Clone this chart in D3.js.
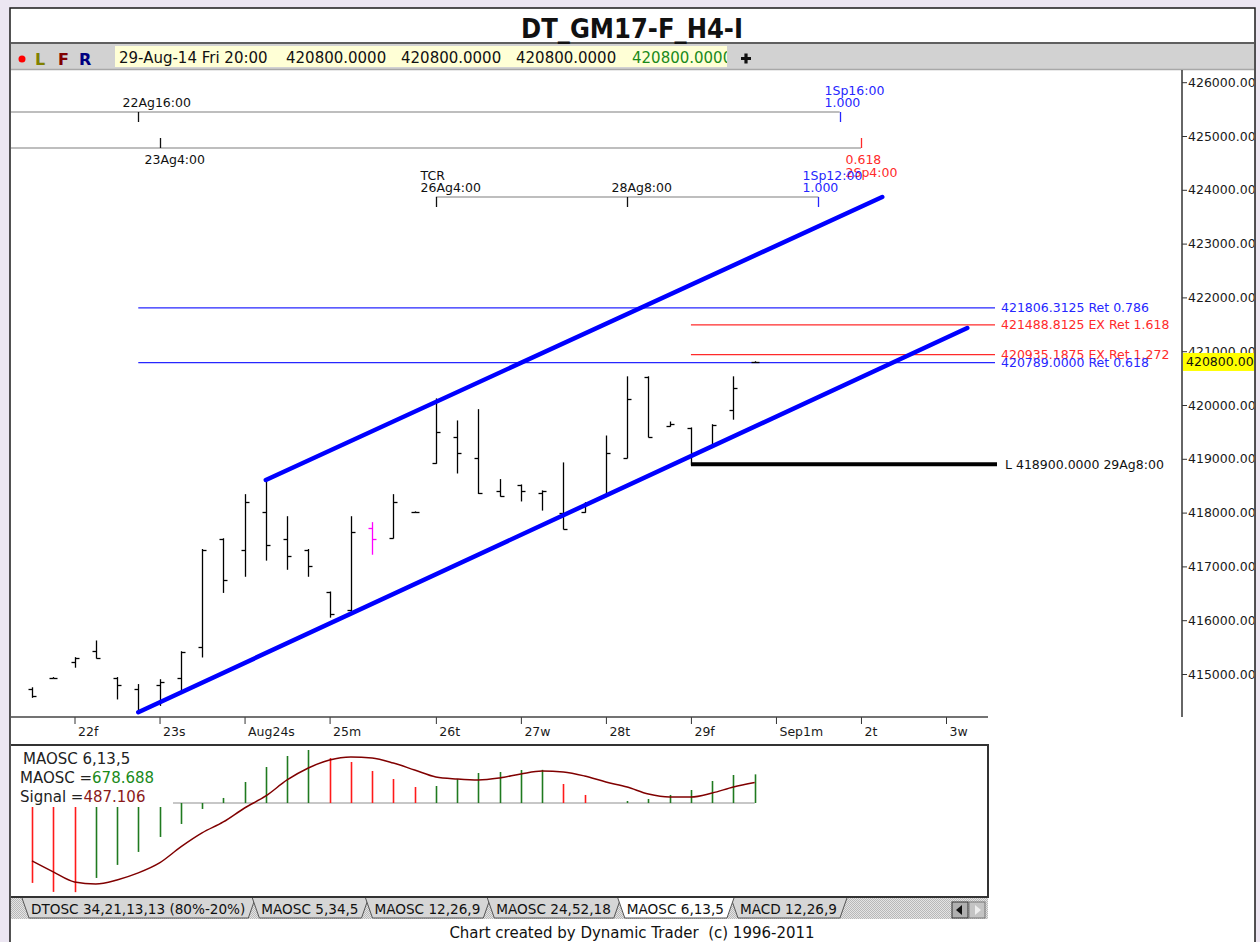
<!DOCTYPE html>
<html>
<head>
<meta charset="utf-8">
<script src="https://cdn.jsdelivr.net/npm/d3@7"></script>
<style>
  body { margin: 0; background: #ece6f2; }
  svg { display: block; }
  text { font-family: "DejaVu Sans", sans-serif; }
</style>
</head>
<body>
<script>
// ---- data ----
// 4-hour bars, index 0 = first bar on screen
var barOpen  = [414720,414930,415220,415430,414930,414720,414800,414930,415500,417510,417310,418010,417510,417310,416520,416190,417710,417530,418010,418920,419410,419020,418400,418510,418360,417990,418010,418310,419020,420520,419610,419570,419220,419910,420800];
var barHigh  = [414740,414930,415300,415610,414930,414800,414890,415410,417310,417510,418330,418610,417920,417310,416520,417920,417810,418330,418010,420110,419700,419910,418610,418510,418400,418920,418180,419420,420520,420520,419680,419570,419630,420520,420800];
var barLow   = [414570,414930,415130,415300,414540,414290,414420,414650,415320,416520,416820,417120,416950,416820,416060,416170,417230,417530,418010,418920,418740,418360,418310,418220,418050,417700,418010,418310,419020,419410,419610,418900,419220,419740,420800];
var barClose = [414590,414930,415300,415300,414800,414330,414850,415410,417310,416750,418200,417400,417190,417010,416120,417640,417510,418200,418010,419500,419110,418360,418310,418400,418400,417700,418180,419110,420110,419410,419650,419110,419630,420320,420800];
var markedBar = 16;

// day ticks on the time axis (bar index) and their labels
var dayIdx    = [2, 6, 10, 14, 19, 23, 27, 31, 35, 39, 43];
var dayLabels = ["22f", "23s", "Aug24s", "25m", "26t", "27w", "28t", "29f", "Sep1m", "2t", "3w"];

// price axis ticks
var priceTicks = d3.range(415000, 426001, 1000);
var lastPrice = 420800;

// trend channel [barIndex, price]
var lowerChannel = [[5, 414290], [44, 421430]];
var upperChannel = [[11, 418606], [40, 423866]];

// retracement / extension levels
var fibPrices = [421806.3125, 421488.8125, 420935.1875, 420789.0];
var fibNames  = ["Ret 0.786", "EX Ret 1.618", "EX Ret 1.272", "Ret 0.618"];
var fibStart  = [5, 31, 31, 5];

// swing low
var lowPrice = 418900, lowIdx = 31, lowText = "L 418900.0000 29Ag8:00";

// time projections: start bar, end bar, texts
var cycleStart     = [5, 6, 19];
var cycleStartText = [["22Ag16:00"], ["23Ag4:00"], ["TCR", "26Ag4:00"]];
var cycleEnd       = [38, 39, 37];
var cycleEndText   = [["1Sp16:00", "1.000"], ["0.618", "2Sp4:00"], ["1Sp12:00", "1.000"]];
var cycleMid = 28, cycleMidText = "28Ag8:00";

// MAOSC 6,13,5 histogram and signal
var maosc  = [-1896,-2109,-2115,-1778,-1469,-1161,-806,-498,-142,119,498,853,1114,1256,1067,972,758,569,379,403,569,711,735,782,786,450,190,0,47,95,190,308,521,664,678.688];
var signal = [-1375,-1635,-1872,-1920,-1825,-1659,-1422,-1043,-711,-450,-119,166,545,830,1019,1090,1067,948,782,616,569,545,593,687,758,735,640,498,379,213,142,142,237,379,487.106];

var tabNames = ["DTOSC 34,21,13,13 (80%-20%)", "MAOSC 5,34,5", "MAOSC 12,26,9", "MAOSC 24,52,18", "MAOSC 6,13,5", "MACD 12,26,9"];
var activeTab = 4;

// ---- colours ----
var BLUE = "#2626ff", RED = "#ff2a2a";

var svg = d3.select("body").append("svg")
  .attr("width", 1260)
  .attr("height", 942);

var defs = svg.append("defs");
defs.append("clipPath").attr("id", "win")
  .append("rect").attr("x", 11).attr("y", 8).attr("width", 1243).attr("height", 934);
defs.append("clipPath").attr("id", "plot")
  .append("rect").attr("x", 11).attr("y", 70).attr("width", 1171).attr("height", 647);
defs.append("clipPath").attr("id", "yellow")
  .append("rect").attr("x", 115).attr("y", 46).attr("width", 612).attr("height", 21);
var pat = defs.append("pattern").attr("id", "dots")
  .attr("width", 2).attr("height", 2).attr("patternUnits", "userSpaceOnUse");
pat.append("rect").attr("width", 2).attr("height", 2).attr("fill", "#e4e4e4");
pat.append("rect").attr("width", 1).attr("height", 1).attr("fill", "#b8b8b8");
pat.append("rect").attr("x", 1).attr("y", 1).attr("width", 1).attr("height", 1).attr("fill", "#b8b8b8");

// window
svg.append("rect").attr("width", 1260).attr("height", 942).attr("fill", "#ece6f2");
svg.append("rect")
  .attr("x", 10).attr("y", 8).attr("width", 1245).attr("height", 940)
  .attr("fill", "#fff").attr("stroke", "#1a1a1a").attr("stroke-width", 1.5);

var win = svg.append("g").attr("clip-path", "url(#win)");

// toolbar
win.append("rect").attr("x", 10).attr("y", 44).attr("width", 1245).attr("height", 25).attr("fill", "#d2d2d2");
win.append("line").attr("x1", 10).attr("x2", 1255).attr("y1", 43).attr("y2", 43)
  .attr("stroke", "#2a2a2a").attr("stroke-width", 1.5);
win.append("line").attr("x1", 10).attr("x2", 1255).attr("y1", 69.5).attr("y2", 69.5)
  .attr("stroke", "#a8a8a8").attr("stroke-width", 1.5);
win.append("circle").attr("cx", 22).attr("cy", 59).attr("r", 3.5).attr("fill", "#ff0000");
[["L", 35, "#808000"], ["F", 58, "#800000"], ["R", 79, "#000080"]].forEach(function(d) {
  win.append("text").attr("x", d[1]).attr("y", 65)
    .style("font-size", "16px").style("font-weight", "bold")
    .attr("fill", d[2]).text(d[0]);
});
win.append("rect").attr("x", 115).attr("y", 46).attr("width", 612).attr("height", 21).attr("fill", "#ffffd6");
var tb = win.append("g").attr("clip-path", "url(#yellow)").style("font-size", "15px");
tb.append("text").attr("x", 119).attr("y", 63).attr("fill", "#111").text("29-Aug-14 Fri 20:00");
[286, 401, 516, 632].forEach(function(px, i) {
  tb.append("text").attr("x", px).attr("y", 63)
    .attr("fill", i == 3 ? "#1a8a1a" : "#111")
    .text(d3.format(".4f")(lastPrice));
});
win.append("path").attr("d", "M741,58.5H751M746,53.5V63.5")
  .attr("stroke", "#111").attr("stroke-width", 3.2);

// title
win.append("text")
  .attr("x", 632).attr("y", 38)
  .attr("text-anchor", "middle")
  .style("font-family", "'Liberation Sans Narrow', 'DejaVu Sans Condensed', 'Liberation Sans', sans-serif")
  .style("font-weight", "bold")
  .style("font-size", "27px")
  .attr("fill", "#111")
  .text("DT_GM17-F_H4-I");

// scales
var x = d3.scaleLinear().domain([0, 43]).range([32, 946]);
var y = d3.scaleLinear().domain([414000, 426000]).range([727.8, 82.2]);

var plot = win.append("g").attr("clip-path", "url(#plot)");

// retracement levels
fibPrices.forEach(function(p, i) {
  var c = fibNames[i].indexOf("EX") == 0 ? RED : BLUE;
  plot.append("line")
    .attr("x1", x(fibStart[i])).attr("x2", 995)
    .attr("y1", y(p)).attr("y2", y(p))
    .attr("stroke", c).attr("stroke-width", 1.3);
  plot.append("text")
    .attr("x", 1001).attr("y", y(p)).attr("dy", "0.36em")
    .style("font-size", "12.5px").attr("fill", c)
    .text(d3.format(".4f")(p) + " " + fibNames[i]);
});

// time projections
var rowY = [112, 148, 197], rowDir = [1, -1, 1];
var endColor = [BLUE, RED, BLUE];
cycleStart.forEach(function(s, r) {
  var yy = rowY[r], d = rowDir[r];
  plot.append("line")
    .attr("x1", r < 2 ? 10 : x(s)).attr("x2", x(cycleEnd[r]))
    .attr("y1", yy).attr("y2", yy)
    .attr("stroke", "#a9a9a9").attr("stroke-width", 1.5);
  var ticks = [[s, "#111", cycleStartText[r]], [cycleEnd[r], endColor[r], cycleEndText[r]]];
  if (r == 2) ticks.push([cycleMid, "#111", [cycleMidText]]);
  ticks.forEach(function(t) {
    var tx = Math.round(x(t[0])) + 0.5;
    plot.append("line")
      .attr("x1", tx).attr("x2", tx)
      .attr("y1", yy).attr("y2", yy + d * 10)
      .attr("stroke", t[1]).attr("stroke-width", 1.3);
    t[2].forEach(function(str, k) {
      var n = t[2].length;
      var by = d > 0 ? yy - 5 - (n - 1 - k) * 12 : yy + 16 + k * 13;
      plot.append("text")
        .attr("x", tx - 16).attr("y", by)
        .style("font-size", "12.5px").attr("fill", t[1])
        .text(str);
    });
  });
});

// price bars
var bars = plot.selectAll(".bar")
  .data(barOpen)
  .enter()
  .append("g")
    .attr("stroke", function(d, i) { return i == markedBar ? "#ff00ff" : "#000"; })
    .attr("stroke-width", 1.3);
bars.append("line")
  .attr("x1", function(d, i) { return Math.round(x(i)) + 0.5; })
  .attr("x2", function(d, i) { return Math.round(x(i)) + 0.5; })
  .attr("y1", function(d, i) { return y(barHigh[i]) - 0.7; })
  .attr("y2", function(d, i) { return y(barLow[i]) + 0.7; });
bars.append("line")
  .attr("x1", function(d, i) { return Math.round(x(i)) - 3.5; })
  .attr("x2", function(d, i) { return Math.round(x(i)) + 0.5; })
  .attr("y1", function(d) { return Math.round(y(d)) + 0.5; })
  .attr("y2", function(d) { return Math.round(y(d)) + 0.5; });
bars.append("line")
  .attr("x1", function(d, i) { return Math.round(x(i)) + 0.5; })
  .attr("x2", function(d, i) { return Math.round(x(i)) + 4.5; })
  .attr("y1", function(d, i) { return Math.round(y(barClose[i])) + 0.5; })
  .attr("y2", function(d, i) { return Math.round(y(barClose[i])) + 0.5; });

// channel
[lowerChannel, upperChannel].forEach(function(ch) {
  plot.append("path")
    .attr("d", d3.line().x(function(d) { return x(d[0]); }).y(function(d) { return y(d[1]); })(ch))
    .attr("stroke", "#0000ff").attr("stroke-width", 4.5)
    .attr("stroke-linecap", "round").attr("fill", "none");
});

// swing low
plot.append("line")
  .attr("x1", x(lowIdx)).attr("x2", 997)
  .attr("y1", y(lowPrice)).attr("y2", y(lowPrice))
  .attr("stroke", "#000").attr("stroke-width", 4);
plot.append("text")
  .attr("x", 1005).attr("y", y(lowPrice)).attr("dy", "0.36em")
  .style("font-size", "12.5px").attr("fill", "#111")
  .text(lowText);

// Add price axis
var yAxis = win.append("g")
  .attr("transform", "translate(1182,0)")
  .call(d3.axisRight(y).tickValues(priceTicks).tickSize(5).tickPadding(1).tickFormat(d3.format(".2f")));
yAxis.select(".domain").remove();
yAxis.selectAll("text").style("font-size", "12.5px").style("font-family", "'DejaVu Sans', sans-serif").attr("fill", "#1a1a1a");
yAxis.selectAll("line").attr("stroke", "#333");
win.append("line").attr("x1", 1182).attr("x2", 1182).attr("y1", 70).attr("y2", 717)
  .attr("stroke", "#333").attr("stroke-width", 1.5);
win.append("rect")
  .attr("x", 1183).attr("y", y(lastPrice) - 9).attr("width", 75).attr("height", 18)
  .attr("fill", "#ffff00");
win.append("text")
  .attr("x", 1186).attr("y", y(lastPrice)).attr("dy", "0.36em")
  .style("font-size", "12.5px").attr("fill", "#111")
  .text(d3.format(".2f")(lastPrice));

// Add time axis
var xAxis = win.append("g")
  .attr("transform", "translate(0,717)")
  .call(d3.axisBottom(x).tickValues(dayIdx).tickSize(7).tickPadding(3)
    .tickFormat(function(d, i) { return dayLabels[i]; }));
xAxis.select(".domain").remove();
xAxis.selectAll("text").style("text-anchor", "start").attr("dx", 3)
  .style("font-size", "12.5px").style("font-family", "'DejaVu Sans', sans-serif").attr("fill", "#1a1a1a");
xAxis.selectAll("line").attr("stroke", "#333");
win.append("line").attr("x1", 10).attr("x2", 988).attr("y1", 717).attr("y2", 717)
  .attr("stroke", "#444").attr("stroke-width", 1.5);

// oscillator panel
win.append("rect").attr("x", 10).attr("y", 745).attr("width", 978).attr("height", 152)
  .attr("fill", "#fff").attr("stroke", "#333").attr("stroke-width", 2);

var yo = d3.scaleLinear().domain([-2230, 1375]).range([897, 745]);

win.append("line").attr("x1", 173).attr("x2", x(maosc.length - 1))
  .attr("y1", yo(0)).attr("y2", yo(0))
  .attr("stroke", "#b4b4b4").attr("stroke-width", 1.3);

win.selectAll(".hist")
  .data(maosc)
  .enter()
  .append("line")
    .attr("x1", function(d, i) { return Math.round(x(i)) + 0.5; })
    .attr("x2", function(d, i) { return Math.round(x(i)) + 0.5; })
    .attr("y1", yo(0))
    .attr("y2", function(d) { return yo(d); })
    .attr("stroke", function(d, i) { return i > 0 && d > maosc[i - 1] ? "#1f7a1f" : "#ff1a1a"; })
    .attr("stroke-width", 1.6);

win.append("path")
  .datum(signal)
  .attr("d", d3.line().x(function(d, i) { return x(i); }).y(function(d) { return yo(d); }).curve(d3.curveMonotoneX))
  .attr("fill", "none").attr("stroke", "#800000").attr("stroke-width", 1.5);

// oscillator legend
win.append("rect").attr("x", 12).attr("y", 747).attr("width", 160).attr("height", 60).attr("fill", "#fff");
var lg = win.append("g").style("font-size", "15px");
lg.append("text").attr("x", 23).attr("y", 764).attr("fill", "#222").text("MAOSC 6,13,5");
var t1 = lg.append("text").attr("x", 20).attr("y", 783).attr("fill", "#222");
t1.append("tspan").text("MAOSC =");
t1.append("tspan").attr("fill", "#1a8a1a").text(d3.format(".3f")(maosc[maosc.length - 1]));
var t2 = lg.append("text").attr("x", 20).attr("y", 802).attr("fill", "#222");
t2.append("tspan").text("Signal =");
t2.append("tspan").attr("fill", "#8b1a1a").text(d3.format(".3f")(signal[signal.length - 1]));

// tabs
win.append("rect").attr("x", 11).attr("y", 898).attr("width", 977).attr("height", 21).attr("fill", "url(#dots)");
var tabG = win.append("g");
var tx0 = 22, tabs = [];
tabNames.forEach(function(name, i) {
  var t = tabG.append("text").attr("x", tx0 + 9).attr("y", 914)
    .style("font-size", "13.6px").attr("fill", "#111").text(name);
  var w = t.node().getComputedTextLength() + 19;
  tabs.push({x0: tx0, x1: tx0 + w, text: t, active: i == activeTab});
  tx0 += w - 3;
});
tabs.forEach(function(t) {
  tabG.insert("path", t.active ? null : "text")
    .attr("d", "M" + t.x0 + ",898L" + (t.x0 + 7) + ",918L" + (t.x1 - 7) + ",918L" + t.x1 + ",898")
    .attr("fill", t.active ? "#fff" : "#d6d6d6")
    .attr("stroke", "#555").attr("stroke-width", 1);
  if (t.active) t.text.raise();
});

// scroll buttons
win.append("rect").attr("x", 952).attr("y", 902).attr("width", 16).attr("height", 16)
  .attr("fill", "#b0b0b0").attr("stroke", "#333");
win.append("path").attr("d", "M956,910L962,905V915Z").attr("fill", "#111");
win.append("rect").attr("x", 969).attr("y", 902).attr("width", 16).attr("height", 16)
  .attr("fill", "#c4c4c4").attr("stroke", "#777");
win.append("path").attr("d", "M981,910L975,905V915Z").attr("fill", "#eee");

// footer
win.append("text")
  .attr("x", 632).attr("y", 938)
  .attr("text-anchor", "middle")
  .style("font-size", "15px").style("white-space", "pre")
  .attr("fill", "#111")
  .text("Chart created by Dynamic Trader  (c) 1996-2011");
</script>
</body>
</html>
